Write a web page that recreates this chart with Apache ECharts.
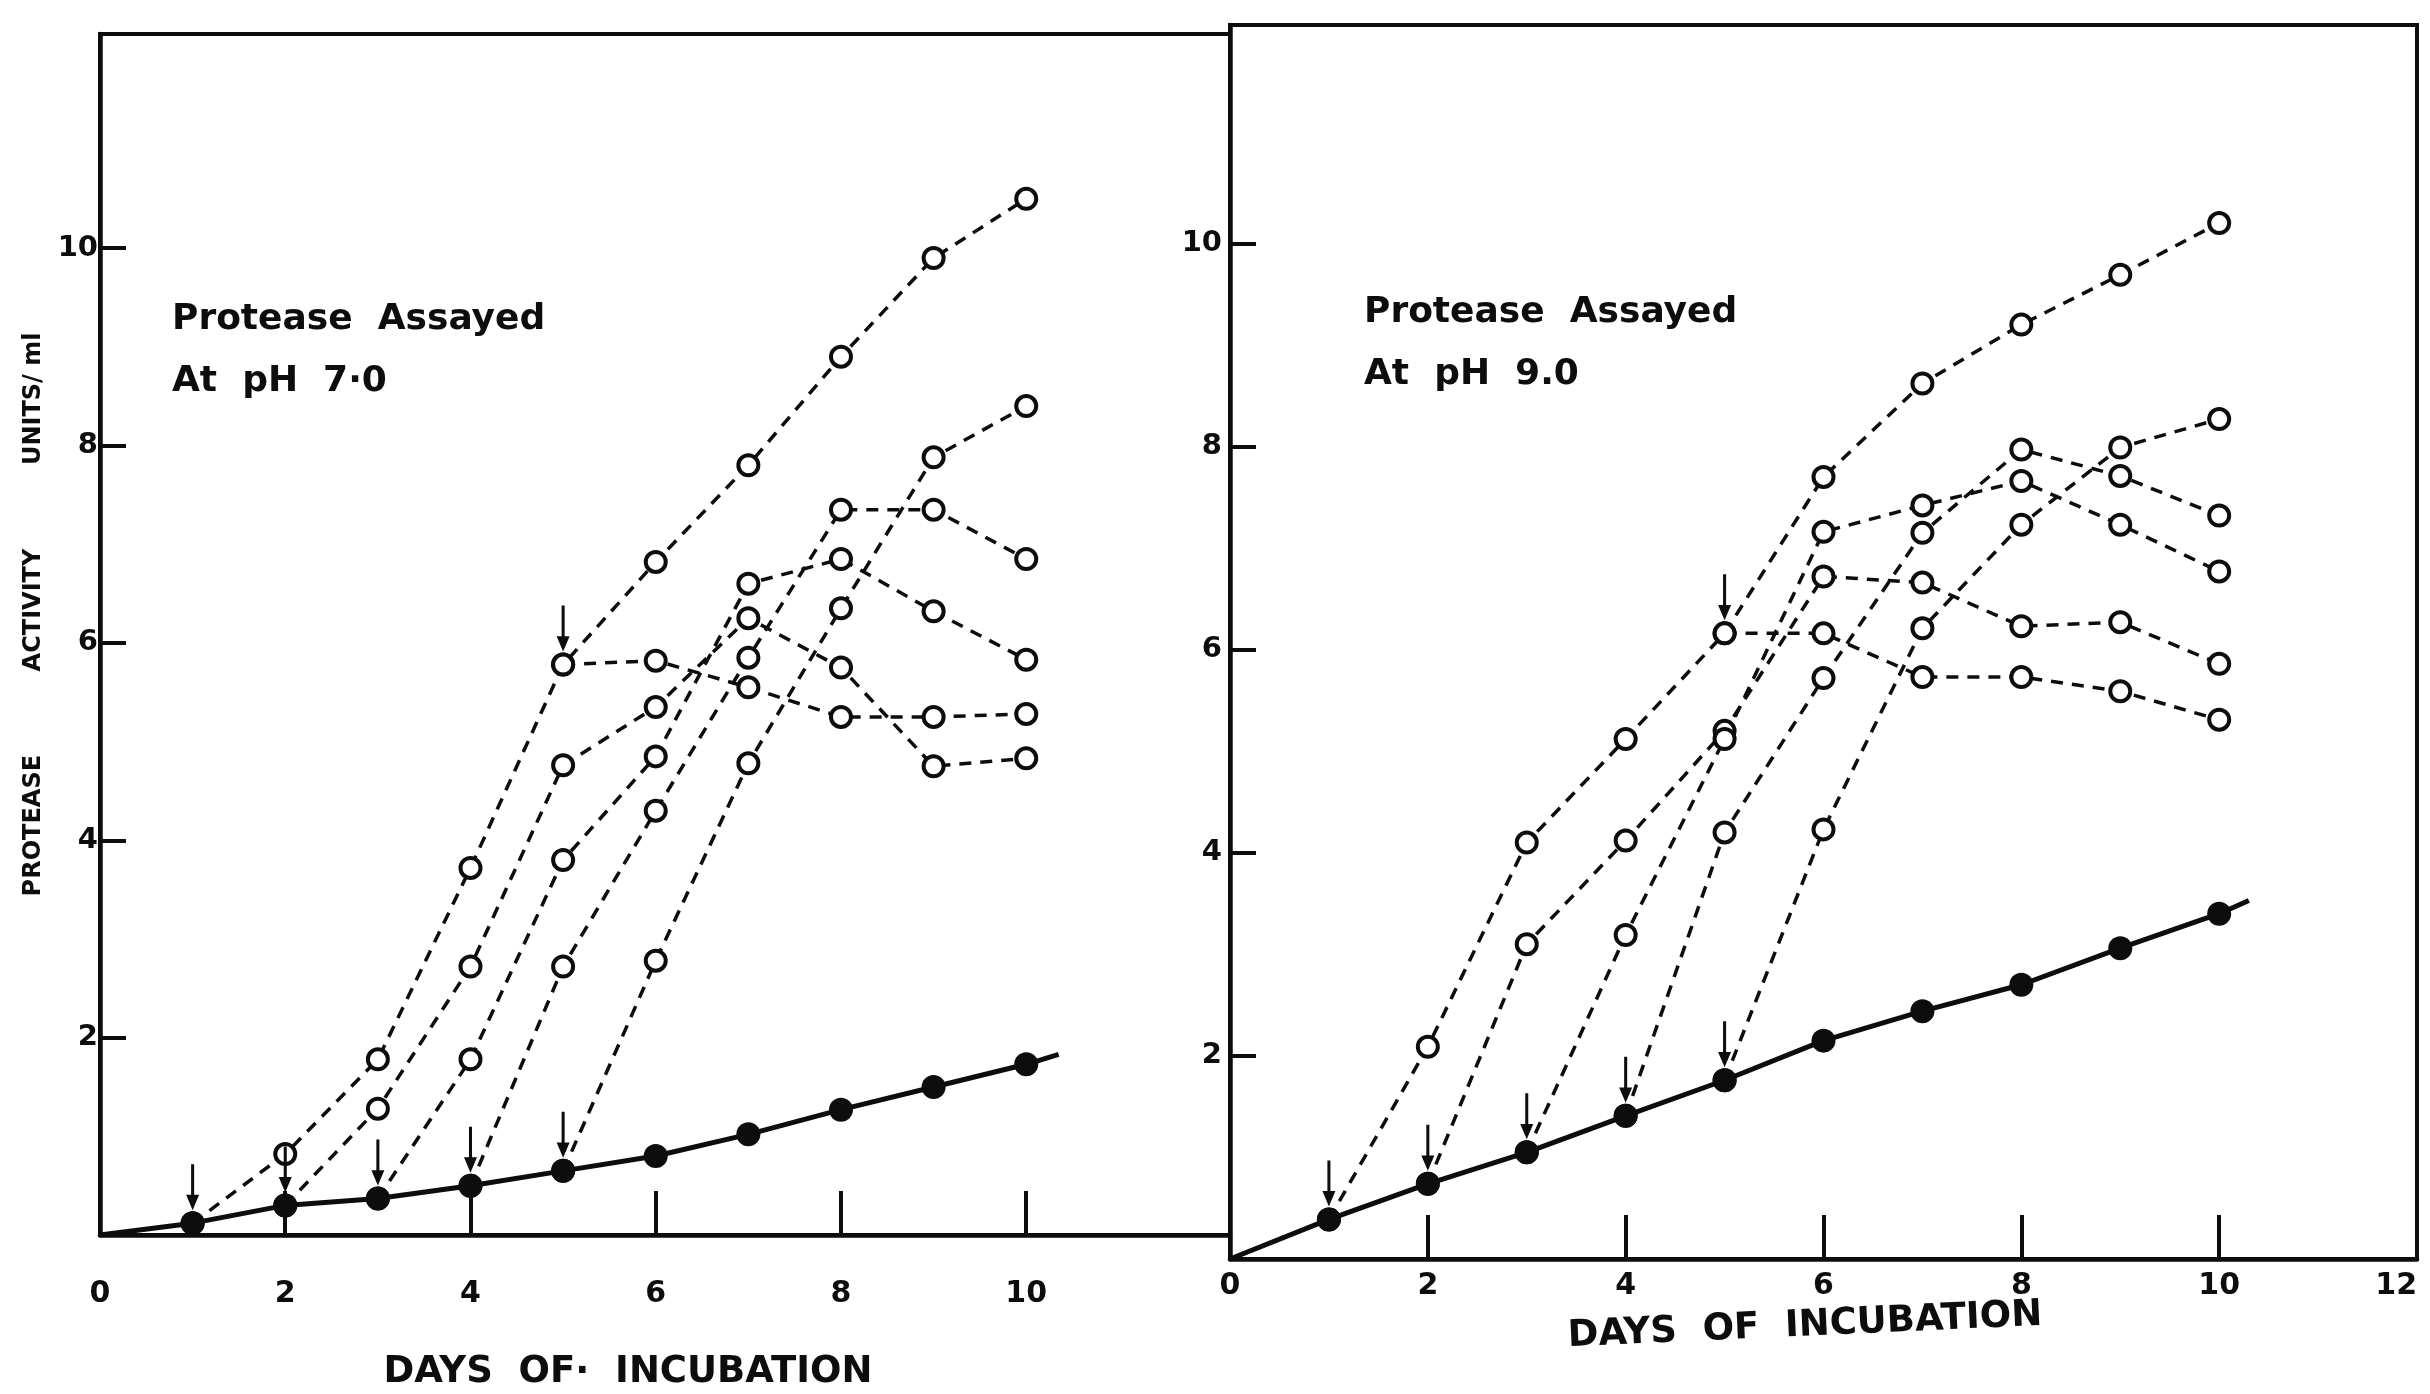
<!DOCTYPE html>
<html><head><meta charset="utf-8">
<script src="https://cdn.jsdelivr.net/npm/echarts@6/dist/echarts.min.js"></script>
<style>html,body{margin:0;padding:0;background:#fff}#chart{width:2430px;height:1394px}</style>
</head><body><div id="chart"></div>
<script>
// ---------- DATA ----------
const xTickLabels = [0, 2, 4, 6, 8, 10];
const xTickLabelsRight = [0, 2, 4, 6, 8, 10, 12];
const xTickMarks = [2, 4, 6, 8, 10];
const yTickLabels = [2, 4, 6, 8, 10];

// pH 7.0 panel — control (filled circles), days 1..10
const ph7Control = [0.12, 0.30, 0.37, 0.50, 0.65, 0.80, 1.02, 1.27, 1.50, 1.73];
const ph7ControlLineEnds = [[0, 0], [10.35, 1.83]];
// dashed curves (open circles): start day + values
const ph7Start1 = 1, ph7Curve1 = [0.12, 0.82, 1.78, 3.72, 5.78, 6.82, 7.80, 8.90, 9.90, 10.50];
const ph7Start1b = 5, ph7Curve1b = [5.78, 5.82, 5.55, 5.25, 5.25, 5.28];
const ph7Start2 = 2, ph7Curve2 = [0.30, 1.28, 2.72, 4.76, 5.35, 6.25, 5.75, 4.75, 4.83];
const ph7Start3 = 3, ph7Curve3 = [0.37, 1.78, 3.80, 4.85, 6.60, 6.85, 6.32, 5.83];
const ph7Start4 = 4, ph7Curve4 = [0.50, 2.72, 4.30, 5.85, 7.35, 7.35, 6.85];
const ph7Start5 = 5, ph7Curve5 = [0.65, 2.78, 4.78, 6.35, 7.88, 8.40];

// pH 9.0 panel
const ph9Control = [0.39, 0.74, 1.05, 1.41, 1.76, 2.15, 2.44, 2.70, 3.06, 3.40];
const ph9ControlLineEnds = [[0, 0], [10.3, 3.53]];
const ph9Start1 = 1, ph9Curve1 = [0.39, 2.09, 4.10, 5.12, 6.16, 7.70, 8.62, 9.20, 9.69, 10.20];
const ph9Start1b = 5, ph9Curve1b = [6.16, 6.16, 5.73, 5.73, 5.59, 5.31];
const ph9Start2 = 2, ph9Curve2 = [0.74, 3.10, 4.12, 5.20, 6.72, 6.66, 6.23, 6.27, 5.86];
const ph9Start3 = 3, ph9Curve3 = [1.05, 3.19, 5.12, 7.16, 7.42, 7.66, 7.23, 6.77];
const ph9Start4 = 4, ph9Curve4 = [1.41, 4.20, 5.72, 7.15, 7.97, 7.71, 7.32];
const ph9Start5 = 5, ph9Curve5 = [1.76, 4.23, 6.21, 7.23, 7.99, 8.27];

// arrows (addition days) on the control line, plus the split point of curve 1
const arrowDays = [1, 2, 3, 4, 5];
const splitArrowDay = 5;

// ---------- BUILD ----------
const days = [1, 2, 3, 4, 5, 6, 7, 8, 9, 10];
const pairs = (start, vals) => vals.map((v, i) => [start + i, v]);
const INK = '#0d0d0d';
const FONT = 'DejaVu Sans';

function dashed(ax, data) {
  return {
    type: 'line', xAxisIndex: ax, yAxisIndex: ax, data: data,
    symbol: 'circle', symbolSize: 20, showAllSymbol: true,
    itemStyle: { color: '#fff', borderColor: INK, borderWidth: 4, opacity: 1 },
    lineStyle: { color: INK, width: 3.5, type: [12, 9] },
    z: 3, animation: false, silent: true
  };
}
function controlLine(ax, vals, ends) {
  const pts = days.map((d, i) => [d, vals[i]]);
  return [
    { type: 'line', xAxisIndex: ax, yAxisIndex: ax, data: [ends[0]].concat(pts, [ends[1]]),
      symbol: 'none', lineStyle: { color: INK, width: 5 }, z: 4, animation: false, silent: true },
    { type: 'scatter', xAxisIndex: ax, yAxisIndex: ax, data: pts, symbol: 'circle', symbolSize: 24,
      itemStyle: { color: INK, opacity: 1 }, z: 5, animation: false, silent: true }
  ];
}
const ARROW = 'path://M4.6,0L7.4,0L7.4,30L12,30L6,45L0,30L4.6,30Z';
function arrows(ax, control, splitStart, splitVals) {
  const data = arrowDays.map(d => [d, control[d - 1]]);
  data.push([splitArrowDay, splitVals[splitArrowDay - splitStart]]);
  return { type: 'scatter', xAxisIndex: ax, yAxisIndex: ax, data: data, symbol: ARROW,
    symbolSize: [13, 46], symbolOffset: [0, -36], itemStyle: { color: INK, opacity: 1 }, z: 6,
    animation: false, silent: true };
}

function xAxis(gi, max, labels, alignMax) {
  return {
    type: 'value', gridIndex: gi, min: 0, max: max, interval: 2,
    axisLine: { show: true, lineStyle: { color: INK, width: 4.5 } },
    axisTick: { show: true, inside: true, length: 44, customValues: xTickMarks, lineStyle: { color: INK, width: 4 } },
    axisLabel: { customValues: labels, fontFamily: FONT, fontSize: 30, fontWeight: 'bold', color: INK,
      margin: gi === 0 ? 44 : 12, alignMaxLabel: alignMax },
    splitLine: { show: false }
  };
}
function yAxis(gi, max, name) {
  return {
    type: 'value', gridIndex: gi, min: 0, max: max, interval: 2,
    axisLine: { show: true, lineStyle: { color: INK, width: 4.5 } },
    axisTick: { show: true, inside: true, length: 26, customValues: yTickLabels, lineStyle: { color: INK, width: 4 } },
    axisLabel: { customValues: yTickLabels, fontFamily: FONT, fontSize: 29, fontWeight: 'bold', color: INK, margin: gi === 0 ? 2 : 8 },
    splitLine: { show: false },
    name: name, nameLocation: 'middle', nameGap: 54, nameRotate: 90,
    nameTextStyle: { fontFamily: FONT, fontSize: 24, fontWeight: 'bold', color: INK, padding: [0, 0, 0, 40] }
  };
}

const chart = echarts.init(document.getElementById('chart'), null, { renderer: 'canvas' });
const textStyle = (t, extra) => Object.assign({ text: t, fontFamily: FONT, fontSize: 36, fontWeight: 'bold', fill: INK }, extra || {});
chart.setOption({
  backgroundColor: '#fff',
  animation: false,
  grid: [
    { left: 100, top: 34, width: 1130, height: 1201, show: true, borderColor: INK, borderWidth: 4, backgroundColor: 'transparent' },
    { left: 1230, top: 25, width: 1187, height: 1234, show: true, borderColor: INK, borderWidth: 4, backgroundColor: 'transparent' }
  ],
  xAxis: [ xAxis(0, 12.2, xTickLabels, undefined), xAxis(1, 12, xTickLabelsRight, 'right') ],
  yAxis: [ yAxis(0, 12.17, 'PROTEASE          ACTIVITY          UNITS/ ml'), yAxis(1, 12.15, '') ],
  graphic: [
    { type: 'text', left: 172, top: 302, style: textStyle('Protease  Assayed') },
    { type: 'text', left: 172, top: 364, style: textStyle('At  pH  7·0') },
    { type: 'text', left: 1364, top: 295, style: textStyle('Protease  Assayed') },
    { type: 'text', left: 1364, top: 357, style: textStyle('At  pH  9.0') },
    { type: 'text', x: 628, y: 1372, style: textStyle('DAYS  OF·  INCUBATION', { fontSize: 37, align: 'center', verticalAlign: 'middle' }) },
    { type: 'text', x: 1805, y: 1326, rotation: 0.045, style: textStyle('DAYS  OF  INCUBATION', { fontSize: 37, align: 'center', verticalAlign: 'middle' }) }
  ],
  series: [].concat(
    [dashed(0, pairs(ph7Start1, ph7Curve1)), dashed(0, pairs(ph7Start1b, ph7Curve1b)),
     dashed(0, pairs(ph7Start2, ph7Curve2)), dashed(0, pairs(ph7Start3, ph7Curve3)),
     dashed(0, pairs(ph7Start4, ph7Curve4)), dashed(0, pairs(ph7Start5, ph7Curve5))],
    controlLine(0, ph7Control, ph7ControlLineEnds),
    [arrows(0, ph7Control, ph7Start1, ph7Curve1)],
    [dashed(1, pairs(ph9Start1, ph9Curve1)), dashed(1, pairs(ph9Start1b, ph9Curve1b)),
     dashed(1, pairs(ph9Start2, ph9Curve2)), dashed(1, pairs(ph9Start3, ph9Curve3)),
     dashed(1, pairs(ph9Start4, ph9Curve4)), dashed(1, pairs(ph9Start5, ph9Curve5))],
    controlLine(1, ph9Control, ph9ControlLineEnds),
    [arrows(1, ph9Control, ph9Start1, ph9Curve1)]
  )
});
</script></body></html>
